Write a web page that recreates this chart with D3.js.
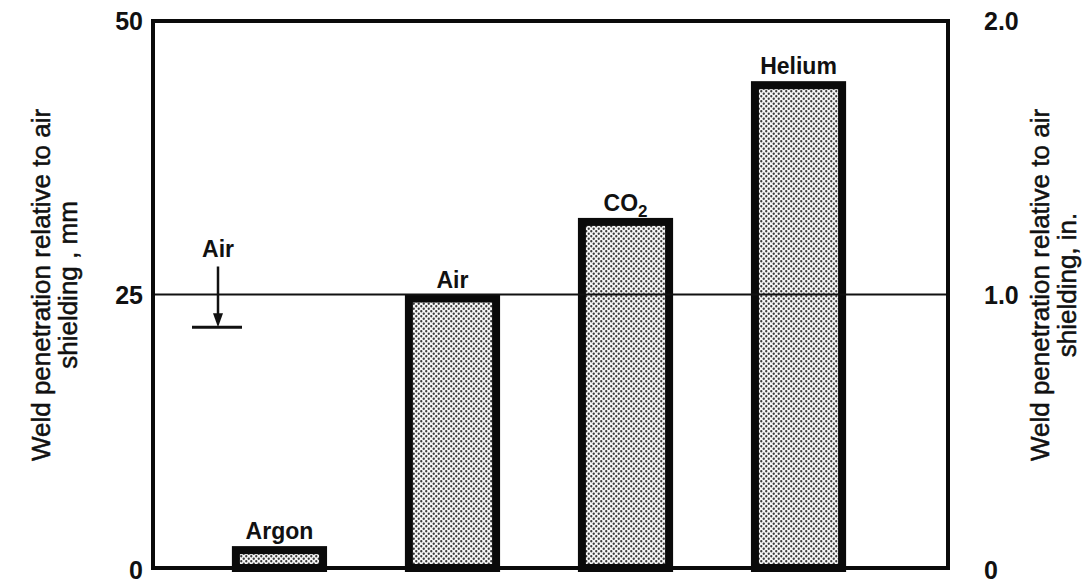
<!DOCTYPE html>
<html>
<head>
<meta charset="utf-8">
<script src="https://cdn.jsdelivr.net/npm/d3@7"></script>
<style>
  html, body { margin: 0; padding: 0; background: #fff; }
  svg { display: block; }
  text { font-family: "Liberation Sans", Arial, Helvetica, sans-serif; fill: #111; }
</style>
</head>
<body>
<svg id="chart" width="1085" height="582"></svg>
<script>
// Shielding gases and their weld penetration (mm)
const gases = ["Argon", "Air", "CO2", "Helium"];
const penetrationMm = [2, 25, 32, 44.5];
// Reference level for air shielding (mm) and the marker value
const airReferenceMm = 25;
const airMarkerMm = 22;
// Axis ticks
const leftTicksMm = [0, 25, 50];
const rightTicksIn = [0, 1.0, 2.0];
const rightTickLabels = ["0", "1.0", "2.0"];

const svg = d3.select("#chart");
const frame = { left: 153, right: 948, top: 21, bottom: 568 };

const y = d3.scaleLinear().domain([0, 50]).range([frame.bottom, frame.top]);
const yIn = d3.scaleLinear().domain([0, 2.0]).range([frame.bottom, frame.top]);
const x = d3.scaleBand().domain(gases).range([frame.left, 925])
  .paddingInner(0.45).paddingOuter(0.456);

// Stippled fill used inside the bars
const defs = svg.append("defs");
const pat = defs.append("pattern").attr("id", "stipple")
  .attr("patternUnits", "userSpaceOnUse").attr("width", 5).attr("height", 5);
pat.append("rect").attr("width", 5).attr("height", 5).attr("fill", "#f6f6f6");
pat.append("circle").attr("cx", 1.25).attr("cy", 1.25).attr("r", 1.15).attr("fill", "#3a3a3a");
pat.append("circle").attr("cx", 3.75).attr("cy", 3.75).attr("r", 1.15).attr("fill", "#3a3a3a");

// Bars
const bw = 8;
svg.append("g").selectAll("rect").data(gases).join("rect")
  .attr("x", d => x(d) + bw / 2)
  .attr("y", (d, i) => y(penetrationMm[i]) + bw / 2)
  .attr("width", x.bandwidth() - bw)
  .attr("height", (d, i) => Math.max(0, y(0) - y(penetrationMm[i]) - bw / 2))
  .attr("fill", "url(#stipple)")
  .attr("stroke", "#0a0a0a")
  .attr("stroke-width", bw);

// Air reference line across the plot
svg.append("line")
  .attr("x1", frame.left).attr("x2", frame.right)
  .attr("y1", y(airReferenceMm)).attr("y2", y(airReferenceMm))
  .attr("stroke", "#111").attr("stroke-width", 2);

// Frame: left, top, right and baseline
svg.append("path")
  .attr("d", `M${frame.left},${frame.bottom} V${frame.top} H${frame.right} V${frame.bottom} Z`)
  .attr("fill", "none").attr("stroke", "#0a0a0a").attr("stroke-width", 4);

// Bar labels
const labels = svg.append("g").attr("text-anchor", "middle")
  .style("font-size", "23px").style("font-weight", "bold");
gases.forEach((g, i) => {
  const t = labels.append("text")
    .attr("x", x(g) + x.bandwidth() / 2)
    .attr("y", y(penetrationMm[i]) - 7);
  if (g === "CO2") {
    t.append("tspan").text("CO");
    t.append("tspan").attr("dy", 6).style("font-size", "17px").text("2");
  } else {
    t.text(g);
  }
});

// Air marker: label, downward arrow and bar at the marker level
const mx = 218;
const mg = svg.append("g");
mg.append("text").attr("x", mx).attr("y", y(airReferenceMm) - 38)
  .attr("text-anchor", "middle").style("font-size", "23px").style("font-weight", "bold").text("Air");
mg.append("line").attr("x1", mx).attr("x2", mx)
  .attr("y1", y(airReferenceMm) - 28).attr("y2", y(airMarkerMm) - 10)
  .attr("stroke", "#111").attr("stroke-width", 2.5);
mg.append("path")
  .attr("d", `M${mx - 5},${y(airMarkerMm) - 14} L${mx + 5},${y(airMarkerMm) - 14} L${mx},${y(airMarkerMm)} Z`)
  .attr("fill", "#111");
mg.append("line").attr("x1", mx - 26).attr("x2", mx + 24)
  .attr("y1", y(airMarkerMm)).attr("y2", y(airMarkerMm))
  .attr("stroke", "#111").attr("stroke-width", 3);

// Left axis labels (mm)
const leftAxis = d3.axisLeft(y).tickValues(leftTicksMm).tickSize(0).tickPadding(10).tickFormat(d3.format("d"));
const gl = svg.append("g").attr("transform", `translate(${frame.left},0)`).call(leftAxis);
gl.select(".domain").remove();
gl.selectAll("text").style("font-size", "25px").style("font-weight", "bold")
  .attr("dy", d => d === 0 ? "0.4em" : "0.35em").attr("fill", "#111");

// Right axis labels (in.)
const rightAxis = d3.axisRight(yIn).tickValues(rightTicksIn).tickSize(0).tickPadding(36)
  .tickFormat((d, i) => rightTickLabels[i]);
const gr = svg.append("g").attr("transform", `translate(${frame.right},0)`).call(rightAxis);
gr.select(".domain").remove();
gr.selectAll("text").style("font-size", "25px").style("font-weight", "bold")
  .attr("dy", d => d === 0 ? "0.4em" : "0.35em").attr("fill", "#111");

// Axis titles
const titleStyle = sel => sel.style("font-size", "26px").attr("text-anchor", "middle")
  .attr("stroke", "#111").attr("stroke-width", 0.5);
const lt = svg.append("text").attr("transform", "translate(50,285) rotate(-90)").call(titleStyle);
lt.append("tspan").attr("x", 0).attr("dy", 0).text("Weld penetration relative to air");
lt.append("tspan").attr("x", 0).attr("dy", 27).text("shielding , mm");
const rt = svg.append("text").attr("transform", "translate(1049,285) rotate(-90)").call(titleStyle);
rt.append("tspan").attr("x", 0).attr("dy", 0).text("Weld penetration relative to air");
rt.append("tspan").attr("x", 0).attr("dy", 27).text("shielding, in.");
</script>
</body>
</html>
